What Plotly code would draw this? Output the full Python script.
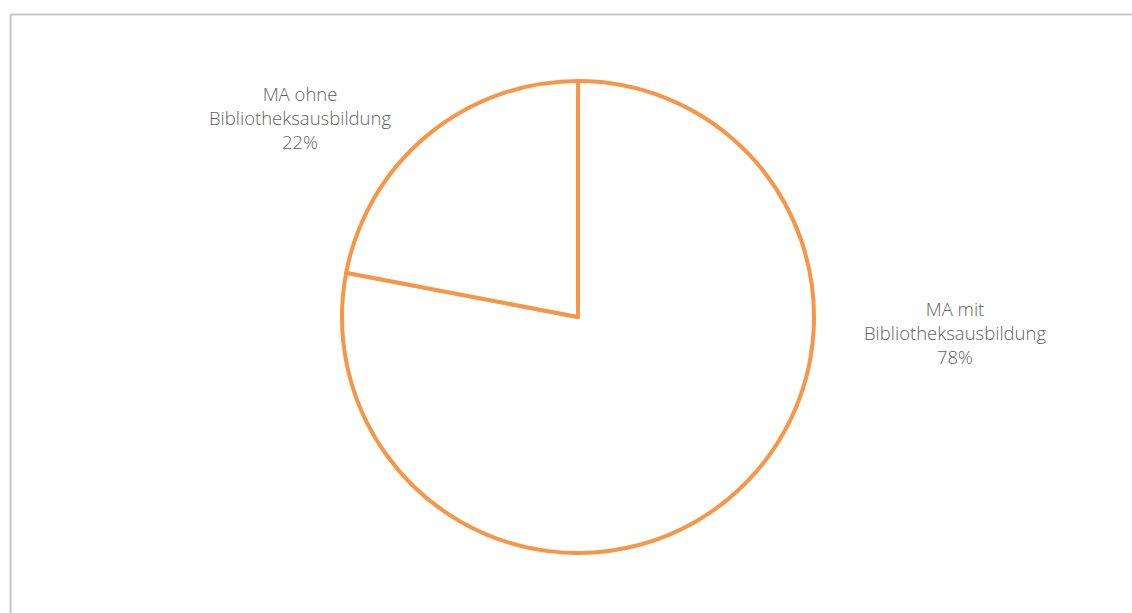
import plotly.graph_objects as go

labels = ["MA mit<br>Bibliotheksausbildung", "MA ohne<br>Bibliotheksausbildung"]
values = [78, 22]
slice_fill = ["#FFFFFF", "#FFFFFF"]
outline_color = "#F79646"

W, H = 1132, 613
cx, cy, r = 578, 317, 236

fig = go.Figure(go.Pie(
    labels=labels,
    values=values,
    sort=False,
    direction="clockwise",
    rotation=0,
    textinfo="none",
    hoverinfo="label+percent",
    marker=dict(colors=slice_fill, line=dict(color=outline_color, width=4)),
    domain=dict(x=[(cx - r) / W, (cx + r) / W], y=[(H - cy - r) / H, (H - cy + r) / H]),
    showlegend=False,
))

total = sum(values)
label_pos = [(955, 332), (300, 117)]
for lab, v, (px, py) in zip(labels, values, label_pos):
    fig.add_annotation(
        x=px / W, y=1 - py / H, xref="paper", yref="paper",
        text=f"{lab}<br>{round(v / total * 100)}%",
        showarrow=False, align="center", xanchor="center", yanchor="middle",
        font=dict(family="Open Sans", size=18.5, color="#5f5f5f", weight=300),
    )

border = "#C8C8C8"
fig.add_shape(type="line", xref="paper", yref="paper",
              x0=10.5 / W, x1=1.0, y0=1 - 14.5 / H, y1=1 - 14.5 / H,
              line=dict(color=border, width=2))
fig.add_shape(type="line", xref="paper", yref="paper",
              x0=10.5 / W, x1=10.5 / W, y0=0.0, y1=1 - 14.5 / H,
              line=dict(color=border, width=2))

fig.update_layout(
    width=W, height=H,
    margin=dict(l=0, r=0, t=0, b=0),
    paper_bgcolor="white", plot_bgcolor="white",
)
fig.write_html("out.html", config={"displayModeBar": False},
               post_script="document.body.style.margin='0';document.body.style.overflow='hidden';")
